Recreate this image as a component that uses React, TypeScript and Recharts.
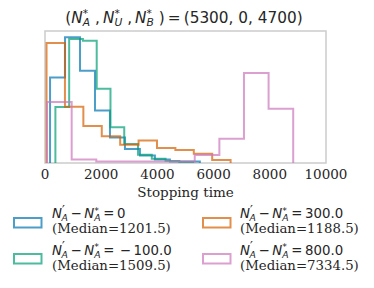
import React from 'react';
import { LineChart, Line, XAxis, YAxis, ReferenceArea } from 'recharts';

// bin edges / heights (heights in arbitrary density units)
const xTicks = [0, 2000, 4000, 6000, 8000, 10000];

const blueEdges = [180, 713, 1246, 1779, 2312, 2845, 3378, 3911, 4444, 4977, 5510];
const blueHeights = [85.5, 125.7, 92.2, 52.5, 25.5, 14, 7.5, 3.5, 1.5, 1.5];

const greenEdges = [370, 860, 1350, 1840, 2330, 2820, 3310, 3800, 4290, 4780, 5270];
const greenHeights = [56, 124, 122.3, 74.3, 35.7, 19, 8.3, 4.3, 2, 1];

const orangeEdges = [55, 710, 1365, 2020, 2675, 3330, 3985, 4640, 5295, 5950, 6605];
const orangeHeights = [120, 56.3, 37, 26.7, 18.3, 22.5, 15, 13, 9.3, 3];

const pinkEdges = [73, 949, 1825, 2701, 3577, 4453, 5329, 6205, 7081, 7957, 8833];
const pinkHeights = [61, 3.5, 1.5, 1.5, 1.5, 1.5, 8, 24.3, 90, 54.3];

const diffs = ['0', '\u2009−\u2009100.0', '300.0', '800.0'];
const medians = ['1201.5', '1509.5', '1188.5', '7334.5'];
const colors = ['#0173b2', '#029e73', '#d55e00', '#cc78bc'];

const Y_MAX = 132;

type Pt = { x: number; y: number };

const toSteps = (edges: number[], heights: number[]): Pt[] => {
  const pts: Pt[] = [{ x: edges[0], y: 0 }];
  heights.forEach((h, i) => pts.push({ x: edges[i], y: h }));
  pts.push({ x: edges[edges.length - 1], y: 0 });
  return pts;
};

const series = [
  { name: 'blue', data: toSteps(blueEdges, blueHeights), color: colors[0] },
  { name: 'green', data: toSteps(greenEdges, greenHeights), color: colors[1] },
  { name: 'orange', data: toSteps(orangeEdges, orangeHeights), color: colors[2] },
  { name: 'pink', data: toSteps(pinkEdges, pinkHeights), color: colors[3] },
];

const MATH = 'DejaVu Sans, sans-serif';
const SERIF = 'DejaVu Serif, serif';
const INK = '#262626';

// N with stacked superscript / subscript, mathtext-ish
const scripted = (k: string, fs: number, sup: string, sub: string, supW: number, rest: string, supScale = 0.7) => [
  <tspan key={k + 'b'} fontStyle="italic">N</tspan>,
  <tspan key={k + 'p'} fontSize={fs * supScale} dy={-0.36 * fs}>{sup}</tspan>,
  <tspan key={k + 's'} fontSize={fs * 0.7} fontStyle="italic" dx={-supW} dy={0.58 * fs}>{sub}</tspan>,
  <tspan key={k + 'r'} dy={-0.22 * fs}>{rest}</tspan>,
];

const legendPos = [
  { px: 14, tx: 52, py: 218, y1: 218.3, y2: 233.3 },
  { px: 14, tx: 52, py: 254, y1: 255, y2: 270 },
  { px: 203, tx: 240, py: 218, y1: 218.3, y2: 233.3 },
  { px: 203, tx: 240, py: 254, y1: 255, y2: 270 },
];

const Overlay = () => {
  const tf = 15.3;
  const lf = 13.3;
  return (
    <svg width={374} height={288} style={{ position: 'absolute', left: 0, top: 0, pointerEvents: 'none' }}>
      <text x={184} y={22.5} textAnchor="middle" fontFamily={MATH} fontSize={tf} fill={INK}>
        <tspan>(</tspan>
        {scripted('a', tf, '*', 'A', 5.3, ' ,\u2009')}
        {scripted('u', tf, '*', 'U', 5.3, ' ,\u2009')}
        {scripted('b', tf, '*', 'B', 5.3, ' )\u2009=\u2009(5300, 0, 4700)')}
      </text>
      {legendPos.map((p, i) => (
        <g key={i}>
          <rect x={p.px} y={p.py} width={27.5} height={9.5} fill="none" stroke={colors[i]} strokeOpacity={0.7} strokeWidth={2} />
          <text x={p.tx} y={p.y1} fontFamily={MATH} fontSize={lf} fill={INK}>
            {scripted('l' + i + 'a', lf, '′', 'A', 3.4, '\u2009−\u2009', 0.95)}
            {scripted('l' + i + 'b', lf, '*', 'A', 4.6, `\u2009=\u2009${diffs[i]}`)}
          </text>
          <text x={p.tx} y={p.y2} fontFamily={SERIF} fontSize={lf} fill={INK}>
            (Median={medians[i]})
          </text>
        </g>
      ))}
    </svg>
  );
};

export default function App() {
  return (
    <div style={{ position: 'absolute', left: 0, top: 0, width: 374, height: 288, background: '#fff' }}>
      <LineChart width={374} height={288} margin={{ top: 31, left: 45, right: 48, bottom: 85 }}>
        <XAxis
          type="number"
          dataKey="x"
          domain={[0, 10000]}
          ticks={xTicks}
          allowDataOverflow
          axisLine={false}
          tickLine={false}
          tickMargin={0}
          height={40}
          tick={{ fontFamily: SERIF, fontSize: 13.5, fill: INK }}
          label={{ value: 'Stopping time', position: 'insideBottom', offset: 6, style: { fontFamily: SERIF, fontSize: 13.5, fill: INK } }}
        />
        <YAxis type="number" dataKey="y" domain={[0, Y_MAX]} hide />
        {series.map((s) => (
          <Line
            key={s.name}
            data={s.data}
            dataKey="y"
            type="stepAfter"
            stroke={s.color}
            strokeOpacity={0.7}
            strokeWidth={2}
            dot={false}
            activeDot={false}
            isAnimationActive={false}
          />
        ))}
        <ReferenceArea x1={0} x2={10000} y1={0} y2={Y_MAX} fill="none" stroke="#cccccc" strokeWidth={1.5} />
      </LineChart>
      <Overlay />
    </div>
  );
}
